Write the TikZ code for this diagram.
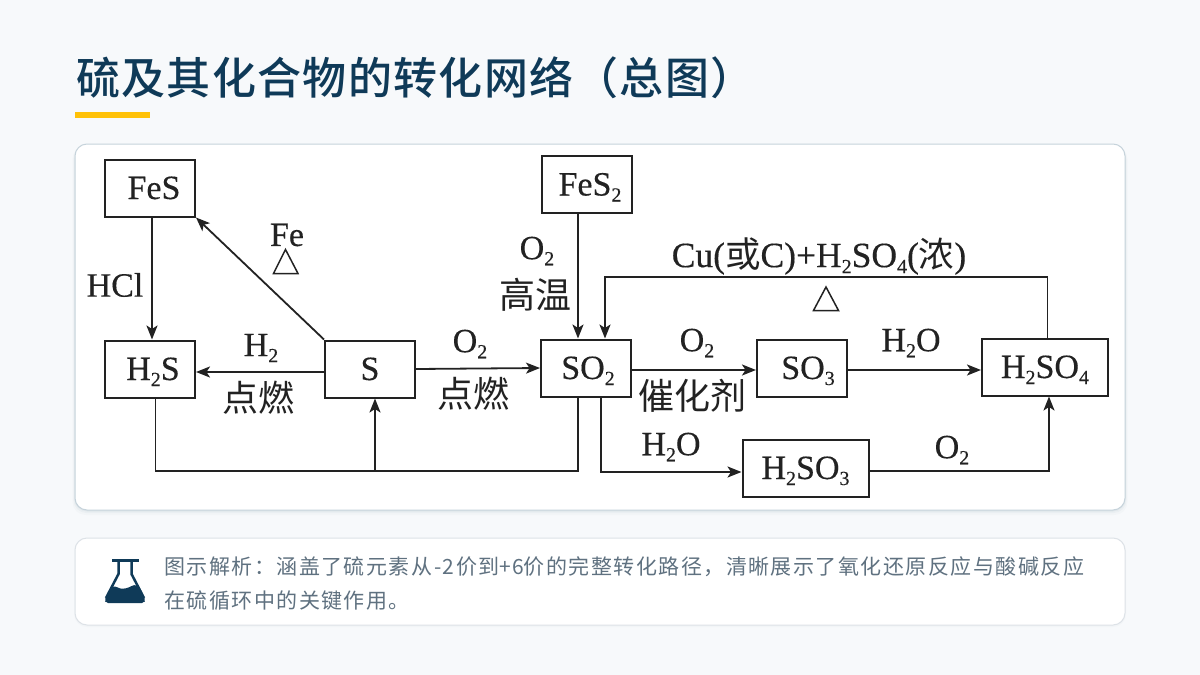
\documentclass[tikz,border=0pt]{standalone}
\usepackage{fontspec}
\usetikzlibrary{arrows.meta}
\setmainfont[FakeBold=0.35]{Liberation Serif}
\newfontfamily\cjk{Noto Sans CJK SC}
\newfontfamily\cjktitle[LetterSpace=3]{Noto Sans CJK SC Medium}
\newfontfamily\cjkspaced[LetterSpace=7]{Noto Sans CJK SC}
\definecolor{pagebg}{HTML}{F7F9FB}
\definecolor{navy}{HTML}{0F3A58}
\definecolor{amber}{HTML}{FFC107}
\definecolor{ink}{HTML}{222222}
\definecolor{cardedge}{HTML}{C6D3DB}
\definecolor{noteedge}{HTML}{DDE2E7}
\definecolor{notetext}{HTML}{5F7180}
\newcommand{\sbs}[1]{\raisebox{-6pt}{\fontsize{20}{20}\selectfont #1}}
\newcommand{\chemfs}{\fontsize{34}{36}\selectfont}
\newcommand{\halfw}[1]{\makebox[24pt][c]{#1}}
\tikzset{
  x=1pt,y=-1pt,
  chembox/.style={draw=ink,line width=2pt,fill=white,inner sep=0pt,text=ink,text height=22pt,text depth=0pt,font=\chemfs,align=center},
  lbl/.style={inner sep=0pt,text=ink,font=\chemfs,anchor=center},
  cjklbl/.style={inner sep=0pt,text=ink,font=\fontsize{36}{36}\selectfont\cjk,anchor=center},
  link/.style={draw=ink,line width=1.8pt},
  arr/.style={link,-{Stealth[length=14pt,width=11pt,inset=3.5pt]}},
  heat/.style={draw=ink,line width=1.5pt,fill=none,line join=miter},
  card/.style={fill=white,rounded corners=12pt},
}
\begin{document}
\begin{tikzpicture}
\useasboundingbox (0,0) rectangle (1200,675);
\fill[pagebg] (0,0) rectangle (1200,675);
% title
\node[inner sep=0pt,anchor=west,text=navy,font=\fontsize{44}{48}\selectfont\cjktitle] (title) at (76,78) {硫及其化合物的转化网络（总图）};
\fill[amber] (75,112) rectangle (150,118);
% main card
\foreach \o/\a in {5/0.02,3/0.03,1.5/0.04}{\fill[navy,opacity=\a,rounded corners=13pt] (75-\o/2,146) rectangle (1125+\o/2,510+\o);}
\draw[card,draw=cardedge,line width=1pt] (75,144) rectangle (1125,510);
% note card
\fill[navy,opacity=0.02,rounded corners=13pt] (74,538) rectangle (1126,627);
\draw[card,draw=noteedge,line width=1pt] (75,538) rectangle (1125,625);
% flask icon
\draw[navy,line width=2.5pt,line join=round] (118.5,561) -- (118.5,574) -- (106,598) (131.5,561) -- (131.5,574) -- (144,598);
\draw[navy,line width=2.5pt] (112,560.5) -- (138.5,560.5);
\fill[navy,rounded corners=2pt] (111.5,587) .. controls (116,586) and (120,589) .. (124,588.5) .. controls (129,588) and (133,584) .. (139,586) -- (145.5,600) -- (144,603) -- (106,603) -- (104.5,600) -- cycle;
% note text
\node[inner sep=0pt,anchor=base west,text=notetext,font=\fontsize{21}{21}\selectfont\cjkspaced] (note1) at (164,574) {图示解析：涵盖了硫元素从\halfw{-2}价到\halfw{+6}价的完整转化路径，清晰展示了氧化还原反应与酸碱反应};
\node[inner sep=0pt,anchor=base west,text=notetext,font=\fontsize{21}{21}\selectfont\cjkspaced] (note2) at (164,608) {在硫循环中的关键作用。};
% compound boxes
\node[chembox,minimum width=90pt,minimum height=57pt] (fes) at (150,188) {\hspace*{8pt}FeS};
\node[chembox,minimum width=90pt,minimum height=57pt] (hs) at (150,369) {\hspace*{6pt}H\sbs{2}S};
\node[chembox,minimum width=90pt,minimum height=57pt] (s) at (370,369) {S};
\node[chembox,minimum width=90pt,minimum height=57pt] (fes2) at (587,184.5) {\hspace*{6pt}FeS\sbs{2}};
\node[chembox,minimum width=90pt,minimum height=57pt] (so2) at (586,368) {\hspace*{4pt}SO\sbs{2}};
\node[chembox,minimum width=90pt,minimum height=57pt] (so3) at (802,368) {\hspace*{12pt}SO\sbs{3}};
\node[chembox,minimum width=126pt,minimum height=57pt] (h2so4) at (1045,367) {H\sbs{2}SO\sbs{4}};
\node[chembox,minimum width=126pt,minimum height=57pt] (h2so3) at (805.5,468) {H\sbs{2}SO\sbs{3}};
% junctions
\coordinate (jl) at (155.5,470.7);
\coordinate (jm) at (375,470.7);
\coordinate (jr) at (578,470.7);
\coordinate (tl) at (605,277);
\coordinate (tr) at (1047.5,277);
\coordinate (bl) at (601,472);
\coordinate (br) at (1049,471);
% connectors
\draw[arr] ([xshift=2pt]fes.south) -- ([xshift=2pt]hs.north);
\draw[arr] (s.north west) -- (fes.south east);
\draw[arr] ([yshift=-3pt]s.west) -- ([yshift=-3pt]hs.east);
\draw[arr] (s.east) -- (so2.west);
\draw[arr] ([xshift=-9pt]fes2.south) -- ([xshift=-8pt]so2.north);
\draw[link] ([xshift=5.5pt]hs.south) -- (jl) -- (jr) -- ([xshift=-8pt]so2.south);
\draw[arr] (jm) -- ([xshift=5pt]s.south);
\draw[arr] ([xshift=2.5pt]h2so4.north) -- (tr) -- (tl) -- ([xshift=19pt]so2.north);
\draw[arr] ([yshift=-2pt]so2.east) -- ([yshift=-2pt]so3.west);
\draw[arr] ([yshift=-2pt]so3.east) -- ([yshift=-3pt]h2so4.west);
\draw[arr] ([xshift=15pt]so2.south) -- (bl) -- ([yshift=-4pt]h2so3.west);
\draw[arr] ([yshift=-3pt]h2so3.east) -- (br) -- ([xshift=4pt]h2so4.south);
% labels
\node[lbl] (lfe) at (287,235) {Fe};
\draw[heat] (285.5,249.5) -- (298,273.5) -- (273.5,273.5) -- cycle;
\node[lbl] (lhcl) at (115,285) {HCl};
\node[lbl] (lh2) at (261,348) {H\sbs{2}};
\node[cjklbl] (ldr1) at (258,398) {点燃};
\node[lbl] (lo2a) at (470,344) {O\sbs{2}};
\node[cjklbl] (ldr2) at (473,394) {点燃};
\node[lbl] (lo2b) at (537,251) {O\sbs{2}};
\node[cjklbl] (lgw) at (535,295) {高温};
\node[lbl,font=\fontsize{35.5}{36}\selectfont] (lcu) at (819,256) {Cu({\cjk 或}C)+H\sbs{2}SO\sbs{4}({\cjk 浓})};
\draw[heat] (826,287) -- (838.5,310.5) -- (813.5,310.5) -- cycle;
\node[lbl] (lo2c) at (697,343) {O\sbs{2}};
\node[cjklbl] (lch) at (692,396) {催化剂};
\node[lbl] (lh2oa) at (911,343) {H\sbs{2}O};
\node[lbl] (lh2ob) at (671,447) {H\sbs{2}O};
\node[lbl] (lo2d) at (952,450) {O\sbs{2}};
\end{tikzpicture}
\end{document}
